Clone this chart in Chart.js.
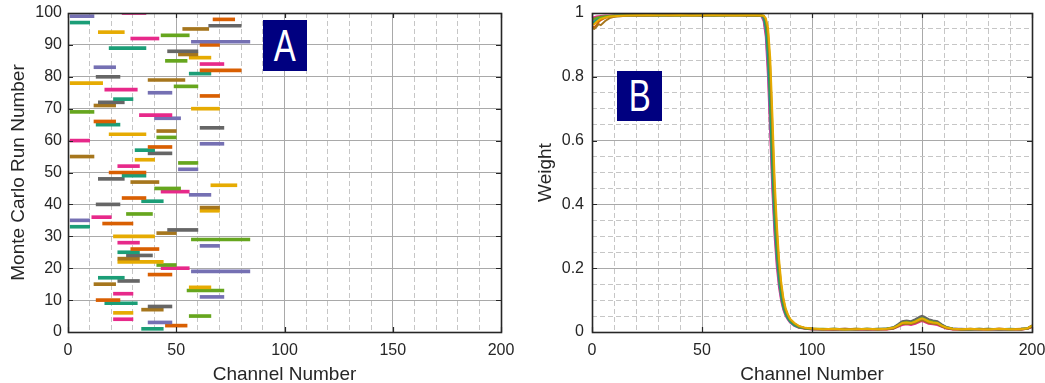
<!DOCTYPE html>
<html><head><meta charset="utf-8">
<script src="https://cdn.jsdelivr.net/npm/chart.js@4.4.0/dist/chart.umd.min.js"></script>
<style>
html,body{margin:0;padding:0;background:#fff;width:1045px;height:383px;overflow:hidden;}
canvas{position:absolute;top:0;}
#ca{left:0;width:520px;height:383px;}
#cb{left:520px;width:525px;height:383px;}
.lab{position:absolute;background:#000080;color:#fff;font-family:'Liberation Sans',Arial,sans-serif;font-size:44px;text-align:center;}
.lab span{display:inline-block;transform:scaleX(0.75);}
</style></head>
<body>
<canvas id="ca" width="520" height="383"></canvas>
<canvas id="cb" width="525" height="383"></canvas>
<div class="lab" style="left:263px;top:20px;width:44px;height:51px;line-height:51px;"><span>A</span></div>
<div class="lab" style="left:617px;top:71px;width:45px;height:50px;line-height:50px;"><span>B</span></div>
<script>
// ---------- Panel A data: Monte Carlo runs, channel range of each run ----------
const runNumbers = Array.from({length:100},(_,i)=>i+1);
const runStart = [34,45,37,21,56,21,34,37,17,13, 61,21,55,56,12,23,14,37,57,43,
                  41,23,23,27,23,29,61,23,57,21, 41,46,1,16,1,11,27,61,61,13,
                  34,25,56,43,40,66,29,14,25,19, 51,23,51,31,1,37,31,37,61,1,
                  41,19,41,61,13,12,40,33,1,57, 12,14,21,61,37,17,49,1,37,13,
                  56,61,12,61,45,56,51,46,19,61, 57,29,43,14,53,65,1,67,1,25];
const runEnd   = [44,55,48,30,66,30,44,48,32,24, 72,30,72,66,22,33,26,48,84,56,
                  50,44,33,39,33,42,70,33,84,40, 50,60,10,30,10,20,39,70,70,24,
                  44,36,66,56,52,78,42,26,36,36, 60,33,60,40,12,48,40,48,72,10,
                  50,36,50,72,24,22,52,48,12,70, 22,26,30,70,48,32,60,16,54,24,
                  66,80,22,72,55,66,60,60,36,70, 84,42,56,26,65,80,10,77,12,36];

// ---------- Panel B data: weights vs channel ----------
const channels = [0,1,2,3,4,6,8,10,13,16, 20,25,30,35,40,45,50,55,60,65,70,74,
  77,78,79,80,81,82,83,84,85,86,87,88,89,90,92,94,
  97,100,105,110,115,120,125,130,
  134,137,139,141,143,145,147,149,150,151,153,155,157,159,161,164,
  168,172,176,180,185,190,195,198,200];

const weightYellow = [0.962,0.965,0.972,0.978,0.982,0.986,0.989,0.990,0.991,0.992,
  0.993,0.994,0.993,0.993,0.994,0.992,0.993,0.994,0.993,0.992,0.993,0.993,
  0.992,0.992,0.984,0.955,0.860,0.680,0.480,0.340,0.230,0.156,0.107,0.075,0.056,0.042,0.028,0.019,
  0.013,0.011,0.009,0.010,0.008,0.009,0.010,0.009,
  0.010,0.013,0.020,0.028,0.030,0.028,0.033,0.040,0.042,0.040,0.033,0.030,0.028,0.020,0.014,0.010,
  0.009,0.010,0.009,0.008,0.010,0.009,0.009,0.012,0.020];
const weightBrown = [0.952,0.950,0.957,0.965,0.962,0.975,0.984,0.988,0.990,0.992,
  0.992,0.993,0.992,0.994,0.993,0.993,0.992,0.993,0.994,0.993,0.992,0.993,
  0.992,0.991,0.980,0.940,0.830,0.640,0.445,0.315,0.215,0.145,0.100,0.071,0.053,0.040,0.027,0.018,
  0.012,0.010,0.009,0.008,0.009,0.010,0.009,0.008,
  0.009,0.011,0.018,0.025,0.026,0.025,0.029,0.035,0.037,0.035,0.029,0.026,0.025,0.018,0.012,0.009,
  0.008,0.009,0.010,0.009,0.008,0.009,0.010,0.011,0.017];
const weightGreen = [0.980,0.982,0.985,0.987,0.988,0.990,0.991,0.992,0.992,0.993,
  0.994,0.993,0.994,0.993,0.992,0.994,0.993,0.993,0.992,0.994,0.993,0.992,
  0.992,0.991,0.976,0.925,0.800,0.600,0.415,0.290,0.200,0.135,0.093,0.066,0.050,0.038,0.025,0.017,
  0.012,0.010,0.010,0.009,0.008,0.010,0.009,0.010,
  0.010,0.014,0.021,0.029,0.032,0.029,0.035,0.042,0.044,0.042,0.035,0.032,0.029,0.021,0.015,0.010,
  0.009,0.008,0.009,0.010,0.009,0.008,0.010,0.012,0.019];
const weightGray = [0.972,0.968,0.975,0.980,0.984,0.987,0.989,0.990,0.992,0.993,
  0.993,0.992,0.993,0.994,0.993,0.992,0.994,0.993,0.993,0.994,0.992,0.993,
  0.992,0.990,0.970,0.905,0.760,0.560,0.385,0.270,0.185,0.125,0.086,0.062,0.047,0.036,0.024,0.016,
  0.012,0.010,0.009,0.010,0.009,0.008,0.010,0.009,
  0.011,0.015,0.024,0.034,0.036,0.034,0.040,0.048,0.051,0.048,0.040,0.036,0.034,0.024,0.016,0.011,
  0.009,0.010,0.008,0.009,0.010,0.009,0.008,0.011,0.021];
const weightOrange = [0.958,0.955,0.962,0.972,0.978,0.985,0.988,0.990,0.991,0.992,
  0.992,0.993,0.994,0.992,0.993,0.993,0.994,0.992,0.993,0.993,0.994,0.993,
  0.992,0.988,0.960,0.880,0.720,0.520,0.360,0.250,0.170,0.115,0.080,0.058,0.044,0.034,0.022,0.015,
  0.011,0.009,0.008,0.009,0.010,0.008,0.009,0.009,
  0.009,0.012,0.018,0.026,0.028,0.026,0.030,0.037,0.039,0.037,0.030,0.028,0.026,0.018,0.013,0.009,
  0.008,0.009,0.009,0.008,0.010,0.009,0.008,0.010,0.016];
const weightTeal = [0.968,0.972,0.978,0.983,0.986,0.988,0.990,0.991,0.992,0.992,
  0.993,0.993,0.992,0.993,0.994,0.993,0.993,0.992,0.994,0.993,0.993,0.994,
  0.992,0.986,0.955,0.865,0.700,0.505,0.350,0.243,0.165,0.112,0.078,0.057,0.043,0.033,0.021,0.015,
  0.011,0.009,0.009,0.010,0.009,0.009,0.010,0.009,
  0.010,0.012,0.019,0.027,0.029,0.027,0.031,0.038,0.040,0.038,0.031,0.029,0.027,0.019,0.013,0.010,
  0.009,0.009,0.010,0.009,0.009,0.010,0.009,0.011,0.018];
const weightPurple = [0.975,0.978,0.982,0.985,0.987,0.989,0.990,0.991,0.992,0.993,
  0.994,0.993,0.993,0.992,0.994,0.993,0.992,0.994,0.993,0.993,0.993,0.992,
  0.991,0.980,0.940,0.830,0.660,0.470,0.325,0.225,0.153,0.104,0.073,0.054,0.041,0.032,0.020,0.014,
  0.011,0.010,0.009,0.009,0.010,0.009,0.008,0.010,
  0.011,0.014,0.022,0.031,0.034,0.031,0.037,0.045,0.047,0.045,0.037,0.034,0.031,0.022,0.015,0.011,
  0.010,0.009,0.009,0.010,0.008,0.009,0.010,0.012,0.020];
const weightPink = [0.985,0.987,0.989,0.990,0.991,0.992,0.992,0.993,0.993,0.994,
  0.994,0.994,0.995,0.994,0.994,0.995,0.994,0.994,0.995,0.994,0.994,0.994,
  0.990,0.975,0.925,0.800,0.620,0.440,0.300,0.205,0.140,0.097,0.069,0.051,0.039,0.030,0.019,0.013,
  0.010,0.008,0.008,0.007,0.008,0.008,0.007,0.008,
  0.008,0.010,0.016,0.022,0.024,0.022,0.026,0.032,0.034,0.032,0.026,0.024,0.022,0.016,0.011,0.008,
  0.008,0.007,0.008,0.008,0.007,0.008,0.008,0.010,0.015];

// ---------- styling ----------
const dark2 = ['#1b9e77','#d95f02','#7570b3','#e7298a','#66a61e','#e6ab02','#a6761d','#666666'];
const TXT = '#262626';
const GRID_MAJOR = '#a9a9a9';
const GRID_MINOR = '#c6c6c6';
Chart.defaults.font.family = "'Liberation Sans', Arial, Helvetica, sans-serif";
Chart.defaults.color = TXT;

const boxPlugin = {
  id: 'matlabBox',
  afterDatasetsDraw(chart, args, opts) {
    const {ctx, chartArea: a, scales} = chart;
    ctx.save();
    ctx.strokeStyle = TXT;
    ctx.lineWidth = 1.2;
    ctx.beginPath();
    scales.x.ticks.forEach(t => {
      if (t.value % opts.xMajor !== 0) return;
      const px = Math.round(scales.x.getPixelForValue(t.value)) + 0.5;
      ctx.moveTo(px, a.bottom); ctx.lineTo(px, a.bottom - 5);
      ctx.moveTo(px, a.top); ctx.lineTo(px, a.top + 5);
    });
    scales.y.ticks.forEach(t => {
      if (!opts.yIsMajor(t.value)) return;
      const py = Math.round(scales.y.getPixelForValue(t.value)) + 0.5;
      ctx.moveTo(a.left, py); ctx.lineTo(a.left + 5, py);
      ctx.moveTo(a.right, py); ctx.lineTo(a.right - 5, py);
    });
    ctx.stroke();
    ctx.lineWidth = 1.6;
    ctx.strokeRect(Math.round(a.left)+0.5, Math.round(a.top)+0.5, Math.round(a.right-a.left), Math.round(a.bottom-a.top));
    ctx.restore();
  }
};

function xAxis() {
  return {
    type: 'linear', min: 0, max: 200, position: 'bottom', offset: false,
    ticks: { stepSize: 10, autoSkip: false, maxRotation: 0, padding: 9, color: TXT,
      font: {size: 16}, callback: v => (v % 50 === 0 ? String(v) : '') },
    grid: { drawTicks: false, offset: false,
      color: c => (c.tick && c.tick.value % 50 === 0 ? GRID_MAJOR : GRID_MINOR),
      lineWidth: 1 },
    border: { display: false, dash: c => (c.tick && c.tick.value % 50 === 0 ? [] : [5, 3]) },
    title: { display: true, text: 'Channel Number', color: TXT, font: {size: 19, lineHeight: 1},
      padding: {top: 0, bottom: -1.5} },
    afterFit: s => { s.height = 51; s.paddingLeft = 0; s.paddingRight = 0; }
  };
}

// ---------- Chart A ----------
new Chart(document.getElementById('ca'), {
  type: 'bar',
  data: {
    datasets: [{
      data: runNumbers.map((r, i) => ({x: [runStart[i], runEnd[i]], y: r})),
      backgroundColor: runNumbers.map(r => dark2[(r - 1) % 8]),
      barThickness: 3, borderWidth: 0
    }]
  },
  options: {
    indexAxis: 'y', responsive: false, animation: false, devicePixelRatio: 1,
    layout: {padding: {left: 0, top: 13, right: 19, bottom: 0}},
    plugins: {legend: {display: false}, tooltip: {enabled: false},
      matlabBox: {xMajor: 50, yIsMajor: v => true}},
    scales: {
      x: xAxis(),
      y: {
        type: 'linear', min: 0, max: 100, offset: false,
        ticks: {stepSize: 10, autoSkip: false, maxTicksLimit: 100, padding: 6, color: TXT, font: {size: 16}},
        grid: {drawTicks: false, offset: false, color: GRID_MAJOR, lineWidth: 1},
        border: {display: false},
        title: {display: true, text: 'Monte Carlo Run Number', color: TXT, font: {size: 19, lineHeight: 1},
          padding: {top: 9.5, bottom: 0}},
        afterFit: s => { s.width = 68; s.paddingTop = 0; s.paddingBottom = 0; }
      }
    }
  },
  plugins: [boxPlugin]
});

// ---------- Chart B ----------
const weightSeries = [
  {c: dark2[5], v: weightYellow},
  {c: dark2[6], v: weightBrown},
  {c: dark2[4], v: weightGreen},
  {c: dark2[0], v: weightTeal},
  {c: dark2[1], v: weightOrange},
  {c: dark2[7], v: weightGray},
  {c: dark2[2], v: weightPurple},
  {c: dark2[3], v: weightPink}
];
const isMajorW = v => Math.round(v * 20) % 4 === 0;
new Chart(document.getElementById('cb'), {
  type: 'line',
  data: {
    datasets: weightSeries.map(s => ({
      data: channels.map((ch, i) => ({x: ch, y: s.v[i]})),
      borderColor: s.c, borderWidth: 2, pointRadius: 0, fill: false, tension: 0
    }))
  },
  options: {
    responsive: false, animation: false, devicePixelRatio: 1,
    layout: {padding: {left: 0, top: 13, right: 13, bottom: 0}},
    plugins: {legend: {display: false}, tooltip: {enabled: false},
      matlabBox: {xMajor: 50, yIsMajor: isMajorW}},
    scales: {
      x: xAxis(),
      y: {
        type: 'linear', min: 0, max: 1,
        ticks: {stepSize: 0.05, autoSkip: false, maxTicksLimit: 100, padding: 8, color: TXT, font: {size: 16},
          callback: v => { const k = Math.round(v * 20); return k % 4 === 0 ? String(k / 20) : ''; }},
        grid: {drawTicks: false, color: c => (c.tick && isMajorW(c.tick.value) ? GRID_MAJOR : GRID_MINOR), lineWidth: 1},
        border: {display: false, dash: c => (c.tick && isMajorW(c.tick.value) ? [] : [5, 3])},
        title: {display: true, text: 'Weight', color: TXT, font: {size: 19, lineHeight: 1},
          padding: {top: 16, bottom: 0}},
        afterFit: s => { s.width = 72; s.paddingTop = 0; s.paddingBottom = 0; }
      }
    }
  },
  plugins: [boxPlugin]
});
</script>
</body></html>
